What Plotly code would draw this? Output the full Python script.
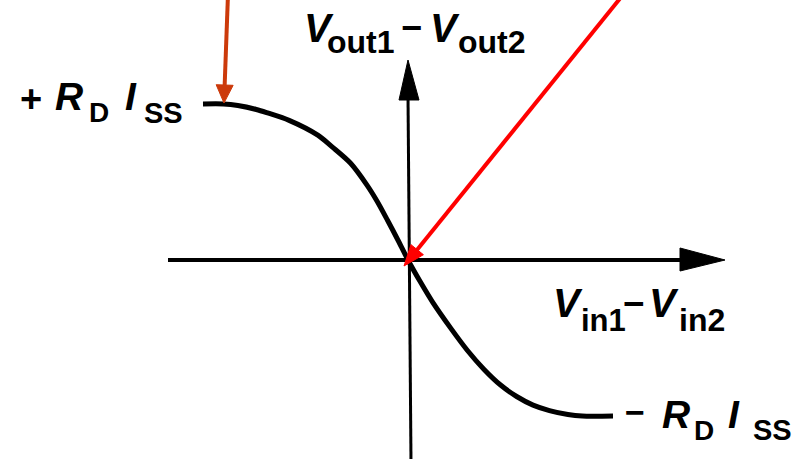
import math
import plotly.graph_objects as go

W, H = 804, 459

# Differential pair large-signal characteristic (normalised):
# x: Vin1 - Vin2 in units of the swing that fully steers I_SS
# y: Vout1 - Vout2 in units of R_D * I_SS
vin_diff = [-1.0, -0.90, -0.83, -0.74, -0.69, -0.58, -0.44, -0.37, -0.28, -0.20, -0.15, -0.10, -0.05,
            0.0, 0.06, 0.12, 0.21, 0.29, 0.37, 0.45, 0.53, 0.61, 0.69, 0.78, 0.85, 1.0]
vout_diff = [1.0, 1.0, 0.99, 0.965, 0.945, 0.895, 0.80, 0.725, 0.62, 0.48, 0.375, 0.255, 0.13,
             0.0, -0.14, -0.27, -0.44, -0.58, -0.70, -0.80, -0.875, -0.93, -0.965, -0.99, -1.0, -1.0]

# drawing frame: origin position and scale in pixels
X0, Y0 = 408, 260
SX, SY = 205, 156


def ux(px):
    return (px - X0) / SX


def uy(py):
    return (Y0 - py) / SY


def path(points):
    return "M " + " L ".join(f"{ux(a):.5f},{uy(b):.5f}" for a, b in points) + " Z"


fig = go.Figure()
fig.add_trace(go.Scatter(
    x=vin_diff, y=vout_diff, mode="lines",
    line=dict(color="black", width=5, shape="spline", smoothing=0.8),
    hoverinfo="skip",
))

shapes = []
# horizontal axis with arrowhead
shapes.append(dict(type="line", xref="x", yref="y", x0=ux(168), y0=uy(260), x1=ux(684), y1=uy(260),
                   line=dict(color="black", width=4), layer="below"))
shapes.append(dict(type="path", xref="x", yref="y", path=path([(680, 248), (725, 260), (680, 271)]),
                   fillcolor="black", line=dict(color="black", width=1), layer="below"))
# vertical axis with arrowhead
shapes.append(dict(type="line", xref="x", yref="y", x0=ux(411), y0=uy(H + 2), x1=ux(408), y1=uy(96),
                   line=dict(color="black", width=3), layer="below"))
shapes.append(dict(type="path", xref="x", yref="y", path=path([(399, 100), (408, 60), (419, 100)]),
                   fillcolor="black", line=dict(color="black", width=1), layer="below"))


def arrow(tail, tip, color, width, head_len, head_half):
    tx, ty = tail
    hx, hy = tip
    L = math.hypot(hx - tx, hy - ty)
    ex, ey = (hx - tx) / L, (hy - ty) / L
    bx, by = hx - head_len * ex, hy - head_len * ey
    px, py = -ey, ex
    out = [dict(type="line", xref="x", yref="y", x0=ux(tx), y0=uy(ty),
                x1=ux(bx + 2 * ex), y1=uy(by + 2 * ey),
                line=dict(color=color, width=width), layer="above")]
    out.append(dict(type="path", xref="x", yref="y",
                    path=path([(bx + head_half * px, by + head_half * py), (hx, hy),
                               (bx - head_half * px, by - head_half * py)]),
                    fillcolor=color, line=dict(color=color, width=1), layer="above"))
    return out


shapes += arrow((228, -6), (224, 103), "#cc3a0b", 4, 18, 8.5)
shapes += arrow((622, -4), (404, 266), "#ff0000", 4, 21, 8)

FONT = "Liberation Sans, Arial, Helvetica, sans-serif"
ann = []


def txt(s, left, base, size, italic=False):
    ann.append(dict(
        text=s, x=left / W, y=1 - (base - 0.3465 * size) / H, xref="paper", yref="paper",
        xanchor="left", yanchor="middle", showarrow=False,
        font=dict(family=FONT, size=size, color="black", weight="bold",
                  style="italic" if italic else "normal"),
    ))


MINUS = "\u2212"

# y-axis label
txt("V", 302, 42, 40, True)
txt("out1", 325, 53, 32)
txt(MINUS, 399, 40, 36)
txt("V", 428, 42, 40, True)
txt("out2", 456, 53, 32)
# x-axis label
txt("V", 551, 317, 40, True)
txt("in1", 579, 331, 31)
txt(MINUS, 621, 316, 37)
txt("V", 647, 317, 40, True)
txt("in2", 677, 331, 32)
# upper level
txt("+", 18, 112, 38)
txt("R", 53, 110, 39, True)
txt("D", 87, 122, 28)
txt("I", 123, 110, 39, True)
txt("SS", 142, 123, 29)
# lower level
txt(MINUS, 623, 424, 34)
txt("R", 660, 428, 39, True)
txt("D", 692, 440, 28)
txt("I", 726, 428, 39, True)
txt("SS", 751, 440, 29)

fig.update_layout(
    width=W, height=H, margin=dict(l=0, r=0, t=0, b=0),
    paper_bgcolor="white", plot_bgcolor="white", showlegend=False,
    xaxis=dict(visible=False, range=[ux(0), ux(W)], fixedrange=True),
    yaxis=dict(visible=False, range=[uy(H), uy(0)], fixedrange=True),
    shapes=shapes, annotations=ann,
)

fig.write_html("out.html", config={"displayModeBar": False})
